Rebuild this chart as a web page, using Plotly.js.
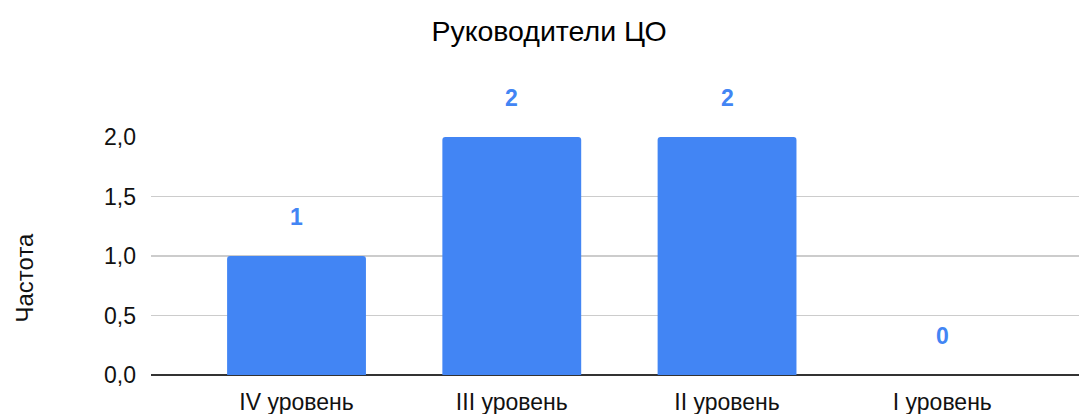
<!DOCTYPE html>
<html>
<head>
<meta charset="utf-8">
<script src="https://cdn.plot.ly/plotly-3.0.1.min.js"></script>
<style>html,body{margin:0;padding:0;background:#fff;}#chart{width:1079px;height:414px;}</style>
</head>
<body>
<div id="chart"></div>
<script>
const categories = ["IV уровень", "III уровень", "II уровень", "I уровень"];
const values = [1, 2, 2, 0];
const yTickVals = [0, 0.5, 1, 1.5, 2];
const yTickText = ["0,0", "0,5", "1,0", "1,5", "2,0"];
const chartTitle = "Руководители ЦО";
const yTitle = "Частота";

const FONT = "Liberation Sans, Arial, Helvetica, sans-serif";
const BLUE = "#4285F4";

const trace = {
  type: "bar",
  x: categories,
  y: values,
  marker: {color: BLUE},
  width: 0.645,
  hoverinfo: "none"
};

const annotations = categories.map((c, i) => ({
  x: c, y: values[i], xref: "x", yref: "y",
  text: "<b>" + String(values[i]) + "</b>",
  showarrow: false,
  yanchor: "middle",
  yshift: 39,
  font: {family: FONT, size: 23, color: BLUE}
}));

// y-axis title placed as a rotated annotation so it can sit below the axis centre like the reference
annotations.push({
  text: yTitle,
  xref: "paper", yref: "paper",
  x: (23.5 - 151) / 928, y: (375 - 278) / 238,
  xanchor: "center", yanchor: "middle",
  textangle: -90,
  showarrow: false,
  font: {family: FONT, size: 24, color: "#111"}
});

const layout = {
  width: 1079, height: 414,
  margin: {l: 151, r: 0, t: 137, b: 39},
  paper_bgcolor: "#fff",
  plot_bgcolor: "#fff",
  showlegend: false,
  barcornerradius: 3,
  title: {
    text: chartTitle,
    x: 549/1079, xref: "container", xanchor: "center",
    y: 1 - 31/414, yref: "container", yanchor: "middle",
    font: {family: FONT, size: 28.5, color: "#000"}
  },
  xaxis: {
    type: "category",
    range: [-0.676, 3.635],
    showgrid: false,
    showline: false,
    ticks: "",
    ticklabelstandoff: 11,
    tickfont: {family: FONT, size: 23, color: "#111"},
    fixedrange: true
  },
  yaxis: {
    range: [0, 2],
    tickvals: yTickVals,
    ticktext: yTickText,
    showgrid: true,
    gridcolor: "#cccccc",
    gridwidth: 1.5,
    zeroline: true,
    zerolinecolor: "#333333",
    zerolinewidth: 1.5,
    ticks: "",
    ticklabelstandoff: 14,
    tickfont: {family: FONT, size: 23, color: "#111"},
    fixedrange: true
  },
  annotations: annotations
};

Plotly.newPlot("chart", [trace], layout, {displayModeBar: false, staticPlot: true});
</script>
</body>
</html>
